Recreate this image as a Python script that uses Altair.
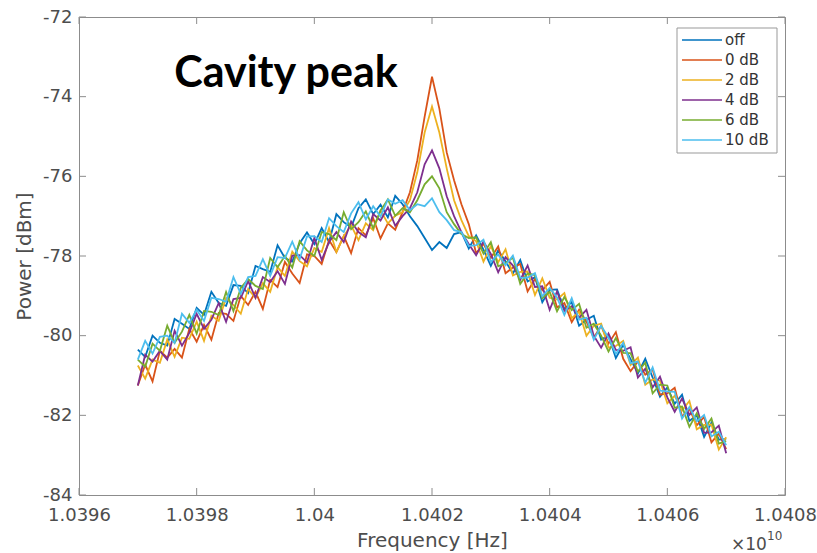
import altair as alt
import pandas as pd

# Frequency axis values (units of 1e10 Hz)
freq = [1.0397, 1.0397125, 1.039725, 1.0397375, 1.03975, 1.0397625, 1.039775, 1.0397875,
        1.0398, 1.0398125, 1.039825, 1.0398375, 1.03985, 1.0398625, 1.039875, 1.0398875,
        1.0399, 1.0399125, 1.039925, 1.0399375, 1.03995, 1.0399625, 1.039975, 1.0399875,
        1.04, 1.0400125, 1.040025, 1.0400375, 1.04005, 1.0400625, 1.040075, 1.0400875,
        1.0401, 1.0401125, 1.040125, 1.0401375, 1.04015, 1.0401625, 1.040175, 1.0401875,
        1.0402, 1.0402125, 1.040225, 1.0402375, 1.04025, 1.0402625, 1.040275, 1.0402875,
        1.0403, 1.0403125, 1.040325, 1.0403375, 1.04035, 1.0403625, 1.040375, 1.0403875,
        1.0404, 1.0404125, 1.040425, 1.0404375, 1.04045, 1.0404625, 1.040475, 1.0404875,
        1.0405, 1.0405125, 1.040525, 1.0405375, 1.04055, 1.0405625, 1.040575, 1.0405875,
        1.0406, 1.0406125, 1.040625, 1.0406375, 1.04065, 1.0406625, 1.040675, 1.0406875,
        1.0407]

p_off = [-80.35, -80.53, -80.00, -80.18, -80.25, -79.58, -79.70, -79.83, -79.30, -79.48,
         -78.90, -79.18, -79.25, -78.73, -78.75, -78.93, -78.25, -78.33, -78.40, -77.73,
         -78.05, -78.14, -77.68, -77.41, -77.70, -77.30, -77.65, -76.95, -77.15, -77.28,
         -76.80, -76.58, -76.95, -76.71, -77.03, -76.49, -76.70, -77.00, -77.25, -77.55,
         -77.85, -77.65, -77.80, -77.45, -77.40, -77.81, -77.48, -77.84, -78.25, -77.86,
         -78.13, -78.44, -78.10, -78.64, -78.53, -79.16, -78.85, -78.84, -79.33, -79.16,
         -79.75, -79.60, -79.50, -80.10, -80.00, -80.56, -80.23, -80.59, -80.95, -80.58,
         -81.05, -81.53, -81.30, -81.71, -81.48, -82.14, -82.00, -82.54, -82.18, -82.61,
         -82.60]

p_0db = [-81.25, -80.73, -81.15, -80.38, -80.55, -80.33, -80.55, -79.83, -80.15, -79.73,
         -80.10, -79.43, -79.45, -79.63, -79.00, -79.23, -78.90, -79.33, -78.60, -78.78,
         -78.15, -78.44, -78.68, -77.96, -78.00, -78.20, -77.60, -77.90, -77.50, -77.93,
         -77.30, -77.48, -77.05, -77.56, -77.18, -77.34, -76.90, -76.40, -75.60, -74.50,
         -73.50, -74.30, -75.40, -76.10, -76.70, -77.20, -77.93, -77.69, -78.05, -77.76,
         -78.43, -78.29, -78.20, -78.89, -78.58, -78.86, -78.65, -79.29, -79.18, -79.66,
         -79.35, -79.65, -80.05, -79.75, -80.20, -79.91, -80.58, -80.89, -80.65, -80.98,
         -80.85, -81.48, -81.45, -81.31, -82.03, -81.84, -82.25, -82.04, -82.68, -82.46,
         -82.85]

p_2db = [-80.75, -81.08, -80.60, -80.68, -80.10, -80.53, -80.05, -80.08, -79.65, -80.13,
         -79.50, -79.63, -79.05, -79.23, -79.45, -78.83, -79.05, -78.68, -78.90, -78.28,
         -78.50, -77.89, -78.13, -78.26, -77.80, -77.90, -77.30, -77.90, -77.50, -77.23,
         -77.60, -77.18, -77.35, -76.86, -77.18, -76.99, -76.90, -76.60, -75.90, -74.90,
         -74.25, -74.90, -75.80, -76.60, -77.10, -77.50, -77.63, -78.14, -77.75, -78.16,
         -77.83, -78.49, -78.40, -78.39, -78.98, -78.56, -79.05, -79.09, -78.93, -79.56,
         -79.40, -80.00, -79.75, -79.70, -80.30, -80.26, -80.13, -80.74, -80.55, -81.23,
         -81.10, -81.13, -81.70, -81.51, -81.88, -81.64, -82.35, -82.24, -82.23, -82.86,
         -82.55]

p_4db = [-81.25, -80.48, -80.65, -80.38, -80.60, -79.88, -80.25, -79.93, -79.45, -79.83,
         -79.60, -79.18, -79.65, -79.08, -79.05, -78.63, -79.05, -78.53, -78.65, -78.38,
         -78.70, -77.99, -77.98, -78.16, -77.55, -78.10, -77.65, -77.40, -77.65, -77.13,
         -77.40, -77.53, -76.95, -77.11, -76.78, -77.24, -77.00, -76.80, -76.40, -75.70,
         -75.35, -75.80, -76.50, -77.00, -77.40, -77.70, -77.98, -77.64, -77.95, -78.41,
         -78.03, -78.24, -78.60, -78.24, -78.78, -78.76, -79.35, -78.89, -79.38, -79.26,
         -79.55, -79.35, -80.00, -80.30, -79.95, -80.36, -80.38, -80.29, -81.05, -80.83,
         -81.30, -81.03, -81.55, -81.91, -81.58, -81.99, -81.80, -82.44, -82.43, -82.26,
         -82.95]

p_6db = [-80.60, -80.78, -80.20, -80.38, -79.75, -80.18, -79.90, -79.48, -79.95, -79.38,
         -79.40, -79.48, -78.90, -79.38, -78.80, -78.58, -78.75, -78.83, -78.05, -78.28,
         -78.00, -78.29, -77.63, -77.86, -78.00, -77.40, -77.45, -77.60, -76.90, -77.33,
         -77.15, -76.88, -77.30, -76.86, -76.58, -76.99, -76.80, -76.90, -76.60, -76.20,
         -76.00, -76.30, -76.90, -77.20, -77.45, -77.55, -77.53, -77.94, -77.65, -78.26,
         -78.18, -78.04, -78.70, -78.44, -78.48, -79.06, -78.90, -79.39, -79.03, -79.36,
         -79.20, -79.80, -79.70, -80.00, -80.40, -80.06, -80.43, -80.44, -80.90, -80.68,
         -81.45, -81.23, -81.25, -81.81, -81.78, -82.29, -81.95, -82.34, -82.08, -82.71,
         -82.65]

p_10db = [-80.60, -80.13, -80.45, -80.03, -80.00, -80.18, -79.45, -79.68, -79.35, -79.63,
          -79.05, -79.08, -79.15, -78.53, -78.95, -78.53, -78.50, -78.08, -78.50, -78.03,
          -78.05, -77.64, -78.08, -77.51, -77.50, -77.65, -77.05, -77.25, -77.40, -76.93,
          -76.65, -77.08, -76.75, -77.01, -76.58, -76.69, -76.60, -76.85, -76.70, -76.75,
          -76.55, -76.90, -77.10, -77.35, -77.40, -77.75, -77.73, -77.59, -78.15, -77.96,
          -78.23, -77.99, -78.55, -78.54, -78.43, -79.01, -78.80, -79.04, -79.48, -79.06,
          -79.60, -79.55, -80.10, -79.75, -80.05, -80.46, -80.18, -80.69, -80.65, -81.18,
          -80.80, -81.38, -81.40, -81.41, -82.08, -81.79, -82.15, -81.99, -82.53, -82.41,
          -82.75]

series = ["off", "0 dB", "2 dB", "4 dB", "6 dB", "10 dB"]
colors = ["#0072BD", "#D95319", "#EDB120", "#7E2F8E", "#77AC30", "#4DBEEE"]
values = [p_off, p_0db, p_2db, p_4db, p_6db, p_10db]

xticks = [1.0396, 1.0398, 1.04, 1.0402, 1.0404, 1.0406, 1.0408]
yticks = [-84, -82, -80, -78, -76, -74, -72]

for v in values:
    assert len(v) == len(freq)

W, H = 706, 478
FONT = "DejaVu Sans"
GRAY = "#8c8c8c"
TXT = "#4d4d4d"

xs = alt.Scale(domain=[1.0396, 1.0408], nice=False, zero=False)
ys = alt.Scale(domain=[-84, -72], nice=False, zero=False)

xaxis = alt.Axis(values=xticks, labelExpr="format(datum.value, '.5~r')",
                 title="Frequency [Hz]", labelFont=FONT, labelFontSize=18, labelColor=TXT,
                 titleFont=FONT, titleFontSize=20, titleFontWeight="normal", titleColor=TXT,
                 domain=False, ticks=False, grid=False, labelPadding=11, titlePadding=6,
                 labelFlush=False, labelOverlap=False)
yaxis = alt.Axis(values=yticks, labelExpr="toString(datum.value)",
                 title="Power [dBm]", labelFont=FONT, labelFontSize=18, labelColor=TXT,
                 titleFont=FONT, titleFontSize=20, titleFontWeight="normal", titleColor=TXT,
                 domain=False, ticks=False, grid=False, labelPadding=7, titlePadding=8,
                 labelFlush=False, labelOverlap=False)

layers = []

# data lines, one layer per series so later series sit on top
for i, (s, c, v) in enumerate(zip(series, colors, values)):
    d = pd.DataFrame({"freq": freq, "power": v, "series": s})
    layers.append(alt.Chart(d).mark_line(color=c, strokeWidth=1.8).encode(
        x=alt.X("freq:Q", scale=xs, axis=xaxis),
        y=alt.Y("power:Q", scale=ys, axis=yaxis if i == 0 else None),
    ))

# inward tick marks (MATLAB style)
yt = pd.DataFrame({"v": yticks})
xt = pd.DataFrame({"v": xticks})
layers.append(alt.Chart(yt).mark_rule(color=GRAY).encode(
    y=alt.Y("v:Q", scale=ys, axis=None), x=alt.value(0), x2=alt.value(7)))
layers.append(alt.Chart(yt).mark_rule(color=GRAY).encode(
    y=alt.Y("v:Q", scale=ys, axis=None), x=alt.value(W - 7), x2=alt.value(W)))
layers.append(alt.Chart(xt).mark_rule(color=GRAY).encode(
    x=alt.X("v:Q", scale=xs, axis=xaxis), y=alt.value(H), y2=alt.value(H - 7)))
layers.append(alt.Chart(xt).mark_rule(color=GRAY).encode(
    x=alt.X("v:Q", scale=xs, axis=xaxis), y=alt.value(0), y2=alt.value(7)))

# legend
one = pd.DataFrame({"a": [0]})
layers.append(alt.Chart(one).mark_rect(fill="white", stroke="#999999", strokeWidth=1).encode(
    x=alt.value(598), x2=alt.value(698), y=alt.value(11), y2=alt.value(136)))
leg_df = pd.DataFrame({"series": series})
leg_y = alt.Y("series:N", scale=alt.Scale(type="point", domain=series, range=[23, 123], padding=0),
              axis=None)
cscale = alt.Scale(domain=series, range=colors)
layers.append(alt.Chart(leg_df).mark_rule(strokeWidth=1.3).encode(
    x=alt.value(603), x2=alt.value(643), y=leg_y,
    color=alt.Color("series:N", scale=cscale, legend=None)))
layers.append(alt.Chart(leg_df).mark_text(align="left", baseline="middle", font=FONT,
                                          fontSize=15, color="#333333").encode(
    x=alt.value(646), y=leg_y, text="series:N"))

# annotations
layers.append(alt.Chart(one).mark_text(text="Cavity peak", font="Lato", fontWeight="bold",
                                       fontSize=43, color="black", align="center",
                                       baseline="alphabetic").encode(
    x=alt.value(207), y=alt.value(70)))
layers.append(alt.Chart(one).mark_text(text="\u00d710", font=FONT, fontSize=17, color=TXT,
                                       align="left", baseline="middle").encode(
    x=alt.value(652), y=alt.value(528)))
layers.append(alt.Chart(one).mark_text(text="10", font=FONT, fontSize=12, color=TXT,
                                       align="left", baseline="middle").encode(
    x=alt.value(688), y=alt.value(519)))

chart = alt.layer(*layers).resolve_scale(y="independent").properties(
    width=W, height=H,
    autosize=alt.AutoSizeParams(type="none"),
    padding={"left": 79, "top": 17, "right": 32, "bottom": 58},
    background="white",
).configure_view(stroke=GRAY, strokeWidth=1)

chart.save("out.html", embed_options={"renderer": "svg", "actions": False})
